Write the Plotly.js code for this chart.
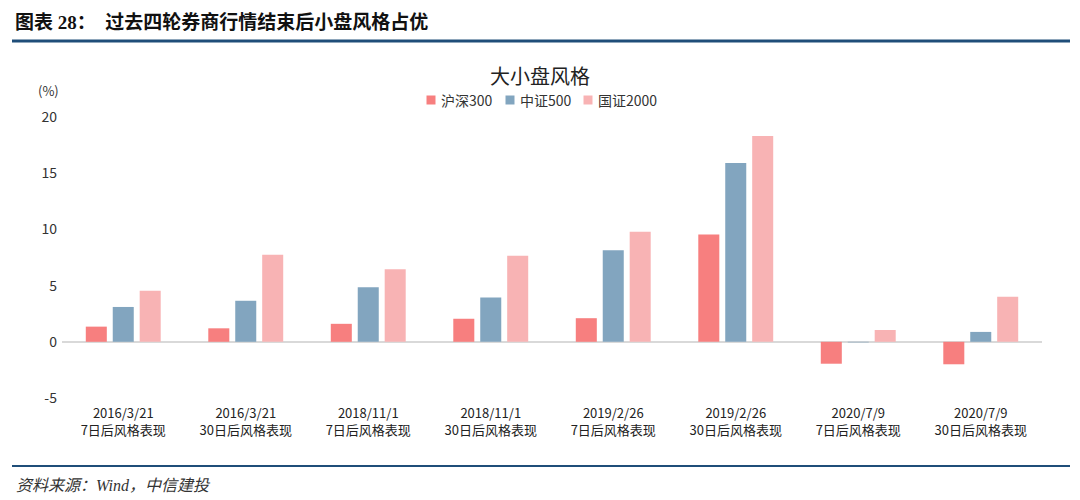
<!DOCTYPE html>
<html>
<head>
<meta charset="utf-8">
<script src="https://cdn.plot.ly/plotly-3.0.1.min.js"></script>
<style>
html,body{margin:0;padding:0;background:#fff;}
#chart{width:1080px;height:500px;}
</style>
</head>
<body>
<div id="chart"></div>
<script>
const categories = [
  "2016/3/21<br>7日后风格表现",
  "2016/3/21<br>30日后风格表现",
  "2018/11/1<br>7日后风格表现",
  "2018/11/1<br>30日后风格表现",
  "2019/2/26<br>7日后风格表现",
  "2019/2/26<br>30日后风格表现",
  "2020/7/9<br>7日后风格表现",
  "2020/7/9<br>30日后风格表现"
];
const hs300 = [1.35, 1.2, 1.6, 2.05, 2.1, 9.55, -1.95, -2.0];
const zz500 = [3.1, 3.65, 4.85, 3.95, 8.15, 15.9, -0.05, 0.88];
const gz2000 = [4.55, 7.75, 6.45, 7.65, 9.8, 18.3, 1.05, 4.0];
const seriesNames = ["沪深300", "中证500", "国证2000"];
const yTicks = [-5, 0, 5, 10, 15, 20];

const W = 1080, H = 500;
const L = 62, R = 38, T = 117, B = 102;
const pw = W - L - R, ph = H - T - B;
const px = x => (x - L) / pw;
const py = y => (H - B - y) / ph;

const CJK = '"Noto Sans CJK SC", "Noto Sans", sans-serif';
const colors = ["#F77F7F", "#82A5BF", "#F8B3B4"];
const vals = [hs300, zz500, gz2000];

const traces = vals.map((v, i) => ({
  type: 'bar',
  name: seriesNames[i],
  x: categories,
  y: v,
  marker: {color: colors[i], line: {width: 0}},
  hoverinfo: 'x+y+name'
}));

// custom compact legend (positions in pixels)
const legendMarkX = [431, 510, 588];
const legendY = 100;
const legendShapes = seriesNames.map((n, i) => ({
  type: 'rect', xref: 'paper', yref: 'paper',
  x0: px(legendMarkX[i] - 4.5), x1: px(legendMarkX[i] + 4.5),
  y0: py(legendY + 4.5), y1: py(legendY - 4.5),
  fillcolor: colors[i], line: {width: 0}
}));
const legendTexts = seriesNames.map((n, i) => ({
  xref: 'paper', yref: 'paper', x: px(legendMarkX[i] + 8), y: py(legendY),
  xanchor: 'left', yanchor: 'middle', showarrow: false,
  text: n, font: {family: CJK, size: 14, color: '#333'}
}));

const layout = {
  width: W, height: H,
  margin: {l: L, r: R, t: T, b: B},
  paper_bgcolor: '#fff', plot_bgcolor: '#fff',
  font: {family: CJK, color: '#333', size: 13},
  barmode: 'group',
  bargap: 0.34,
  bargroupgap: 0.22,
  showlegend: false,
  xaxis: {
    type: 'category', showgrid: false, showline: false, zeroline: false,
    ticks: '', tickfont: {size: 13, color: '#222', family: CJK},
    ticklabelstandoff: 6, fixedrange: true
  },
  yaxis: {
    range: [-5, 20], tickvals: yTicks, ticktext: yTicks.map(String),
    showgrid: false, showline: false, zeroline: true, zerolinecolor: '#D9D9D9', zerolinewidth: 2,
    ticks: '', tickfont: {size: 14, color: '#333', family: CJK}, ticklabelstandoff: 4, fixedrange: true
  },
  shapes: [
    {type: 'line', xref: 'paper', yref: 'paper', x0: px(12), x1: px(1070), y0: py(41), y1: py(41),
     line: {color: '#1F4E79', width: 3}},
    {type: 'line', xref: 'paper', yref: 'paper', x0: px(12), x1: px(1070), y0: py(466), y1: py(466),
     line: {color: '#1F4E79', width: 2}}
  ].concat(legendShapes),
  annotations: [
    {xref: 'paper', yref: 'paper', x: px(13), y: py(22), xanchor: 'left', yanchor: 'middle', showarrow: false,
     text: '<b>图表 28：  过去四轮券商行情结束后小盘风格占优</b>',
     font: {family: '"Liberation Serif", "Noto Sans CJK SC", serif', size: 19, color: '#111'}},
    {xref: 'paper', yref: 'paper', x: px(540), y: py(76), xanchor: 'center', yanchor: 'middle', showarrow: false,
     text: '大小盘风格', font: {family: CJK, size: 20, color: '#222'}},
    {xref: 'paper', yref: 'paper', x: px(48), y: py(90), xanchor: 'center', yanchor: 'middle', showarrow: false,
     text: '(%)', font: {family: CJK, size: 13, color: '#333'}},
    {xref: 'paper', yref: 'paper', x: px(14), y: py(485), xanchor: 'left', yanchor: 'middle', showarrow: false,
     text: '<i>资料来源：Wind，中信建投</i>', font: {family: '"Liberation Serif", "Noto Sans CJK SC", serif', size: 16, color: '#333'}}
  ].concat(legendTexts)
};

Plotly.newPlot('chart', traces, layout, {displayModeBar: false, staticPlot: true});
</script>
</body>
</html>
